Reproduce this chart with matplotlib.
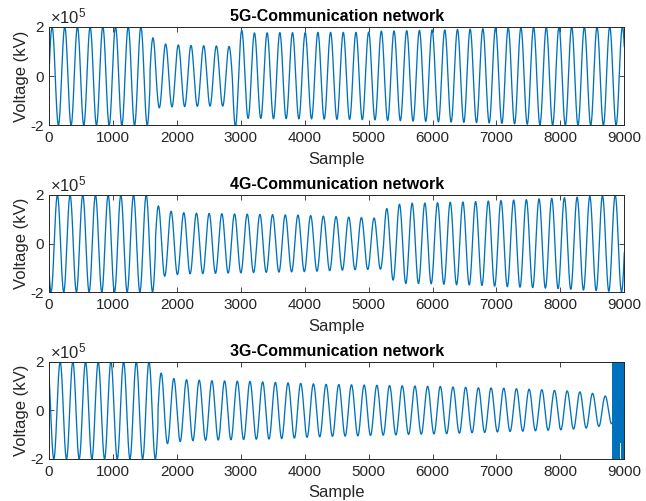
import numpy as np
import matplotlib
matplotlib.use('Agg')
import matplotlib.pyplot as plt

plt.rcParams['font.family'] = ['Liberation Sans', 'DejaVu Sans']
plt.rcParams['mathtext.fontset'] = 'custom'
plt.rcParams['mathtext.rm'] = 'Liberation Sans'
plt.rcParams['mathtext.it'] = 'Liberation Sans:italic'

# ---------------- data (voltages in units of 1e5) ----------------
N_SAMPLES = 9000
PERIOD = 198.5          # samples per cycle
SCALE = 1e5

titles = ['5G-Communication network', '4G-Communication network', '3G-Communication network']
x_ticks = [0, 1000, 2000, 3000, 4000, 5000, 6000, 7000, 8000, 9000]
y_ticks = [-2, 0, 2]

# 5G: first extremum is a peak at sample 48
first_ext_5g = 48
first_is_peak_5g = True
peaks_5g = [2.0, 2.0, 2.0, 2.0, 2.0, 2.0, 2.0, 2.0,
            1.55, 1.30, 1.26, 1.24, 1.23, 1.22, 1.20,
            1.85, 1.75, 1.75, 1.76, 1.76, 1.76, 1.77, 1.77, 1.77, 1.77, 1.78,
            1.82, 1.83, 1.84, 1.85, 1.87, 1.87, 1.89, 1.90, 1.92, 1.95, 1.96,
            1.97, 1.98, 1.98, 1.98, 1.99, 1.99, 1.99, 2.0, 2.0]
troughs_5g = [2.0, 2.0, 2.0, 2.0, 2.0, 2.0, 2.0, 2.0,
              1.29, 1.25, 1.24, 1.23, 1.22, 1.22,
              2.05,
              1.72, 1.72, 1.73, 1.73, 1.74, 1.74, 1.75, 1.76, 1.76, 1.77, 1.78,
              1.80, 1.81, 1.83, 1.84, 1.86, 1.87, 1.88, 1.89, 1.90, 1.92, 1.94,
              1.96, 1.98, 1.99, 2.0, 2.0, 2.0, 2.0, 2.0]
jump_at_5g = [1580]
jump_shift_5g = [10]

# 4G: first extremum is a trough at sample 32
first_ext_4g = 32
first_is_peak_4g = False
troughs_4g = [2.0, 2.0, 2.0, 2.0, 2.0, 2.0, 2.0, 2.0, 2.0,
              1.35,
              1.28, 1.25, 1.24, 1.23, 1.22, 1.21, 1.20, 1.19, 1.18, 1.17, 1.16,
              1.14, 1.12, 1.10, 1.08, 1.07, 1.06,
              1.51, 1.65, 1.65, 1.66, 1.68, 1.70, 1.71, 1.73, 1.76, 1.78, 1.80,
              1.82, 1.84, 1.86, 1.89, 1.92, 1.94, 1.97, 2.0]
peaks_4g = [2.0, 2.0, 2.0, 2.0, 2.0, 2.0, 2.0, 2.0,
            1.55,
            1.33, 1.27, 1.25, 1.24, 1.23, 1.22, 1.21, 1.20, 1.19, 1.18, 1.17,
            1.15, 1.13, 1.11, 1.09, 1.07, 1.05,
            1.44,
            1.62, 1.66, 1.67, 1.68, 1.70, 1.71, 1.73, 1.75, 1.77, 1.79, 1.81,
            1.84, 1.86, 1.89, 1.91, 1.94, 1.97, 2.0]
jump_at_4g = [1666]
jump_shift_4g = [8]

# 3G: first extremum is a peak at sample -24
first_ext_3g = -24
first_is_peak_3g = True
peaks_3g = [2.0, 2.0, 2.0, 2.0, 2.0, 2.0, 2.0, 2.0, 2.0,
            1.53, 1.31, 1.26, 1.24, 1.22, 1.21, 1.20, 1.19, 1.17, 1.15, 1.13,
            1.11, 1.09, 1.07, 1.06, 1.05, 1.04, 1.03, 1.02, 1.01, 1.00, 0.99,
            0.98, 0.96, 0.95, 0.93, 0.92, 0.91, 0.89, 0.87, 0.85, 0.82, 0.80,
            0.76, 0.70, 0.59, 0.55]
troughs_3g = [2.0, 2.0, 2.0, 2.0, 2.0, 2.0, 2.0, 2.0, 2.0,
              1.37,
              1.28, 1.25, 1.23, 1.22, 1.21, 1.20, 1.19, 1.18, 1.16, 1.14, 1.11,
              1.09, 1.07, 1.06, 1.05, 1.03, 1.02, 1.01, 0.99, 0.98, 0.97, 0.96,
              0.94, 0.92, 0.91, 0.89, 0.87, 0.86, 0.84, 0.82, 0.80, 0.77, 0.73,
              0.66, 0.55]
jump_at_3g = [1705]
jump_shift_3g = [8]
# high-frequency burst at the end of the 3G record
burst_start_3g = 8828
burst_amp_3g = 3.0
burst_gap_3g = [8922, 8958]
burst_gap_floor_3g = 1.3


def build_wave(t, first_ext, first_is_peak, peaks, troughs, jumps, shifts):
    if first_is_peak:
        seq = [v for pair in zip(peaks, troughs) for v in pair]
        if len(peaks) > len(troughs):
            seq.append(peaks[-1])
        sign = 1.0
    else:
        seq = [v for pair in zip(troughs, peaks) for v in pair]
        if len(troughs) > len(peaks):
            seq.append(troughs[-1])
        sign = -1.0
    seq = np.array(seq)
    shift = np.zeros_like(t, dtype=float)
    for s, d in zip(jumps, shifts):
        shift += np.where(t >= s, d, 0.0)
    theta = np.pi / 2 + 2 * np.pi * (t + shift - first_ext) / PERIOD
    h = np.clip(np.floor(theta / np.pi).astype(int), 0, len(seq) - 1)
    return sign * seq[h] * np.sin(theta) * SCALE


t = np.arange(0, N_SAMPLES + 1)
v5 = build_wave(t, first_ext_5g, first_is_peak_5g, peaks_5g, troughs_5g, jump_at_5g, jump_shift_5g)
v4 = build_wave(t, first_ext_4g, first_is_peak_4g, peaks_4g, troughs_4g, jump_at_4g, jump_shift_4g)
v3 = build_wave(t, first_ext_3g, first_is_peak_3g, peaks_3g, troughs_3g, jump_at_3g, jump_shift_3g)

# burst: alternating full-scale samples
burst = t >= burst_start_3g
alt = np.where(t % 2 == 0, 1.0, -1.0) * burst_amp_3g
in_gap = (t >= burst_gap_3g[0]) & (t <= burst_gap_3g[1])
alt = np.where(in_gap & (alt < 0), -burst_gap_floor_3g, alt)
v3 = np.where(burst, alt * SCALE, v3)

series = [v5, v4, v3]

# ---------------- figure ----------------
fig = plt.figure(figsize=(6.46, 5.01), dpi=100)
W, H = 646, 501
left = 49 / W
width = (624.3 - 49) / W
tops = [26.7, 195.0, 361.7]
bottoms = [125.3, 292.0, 459.0]

axc = '#262626'
for i in range(3):
    ax = fig.add_axes([left, 1 - bottoms[i] / H, width, (bottoms[i] - tops[i]) / H])
    ax.plot(t, series[i], color='#0072BD', linewidth=0.95)
    ax.set_xlim(0, N_SAMPLES)
    ax.set_ylim(y_ticks[0] * SCALE, y_ticks[-1] * SCALE)
    ax.set_xticks(x_ticks)
    ax.set_yticks([v * SCALE for v in y_ticks])
    ax.set_yticklabels([str(v) for v in y_ticks])
    ax.tick_params(direction='in', length=3.5, width=0.6, colors=axc,
                   labelsize=11, top=True, right=True, pad=4)
    for sp in ax.spines.values():
        sp.set_color(axc)
        sp.set_linewidth(0.7)
    ax.set_title(titles[i], fontsize=11.5, fontweight='bold', color='black', pad=4)
    ax.set_xlabel('Sample', fontsize=12, color=axc, labelpad=5)
    ax.set_ylabel('Voltage (kV)', fontsize=12, color=axc, labelpad=1)
    ax.text(0.002, 1.008, r'$\mathregular{\times10^{5}}$', transform=ax.transAxes,
            fontsize=12, color=axc, ha='left', va='bottom')

fig.savefig('out.png', dpi=100)
